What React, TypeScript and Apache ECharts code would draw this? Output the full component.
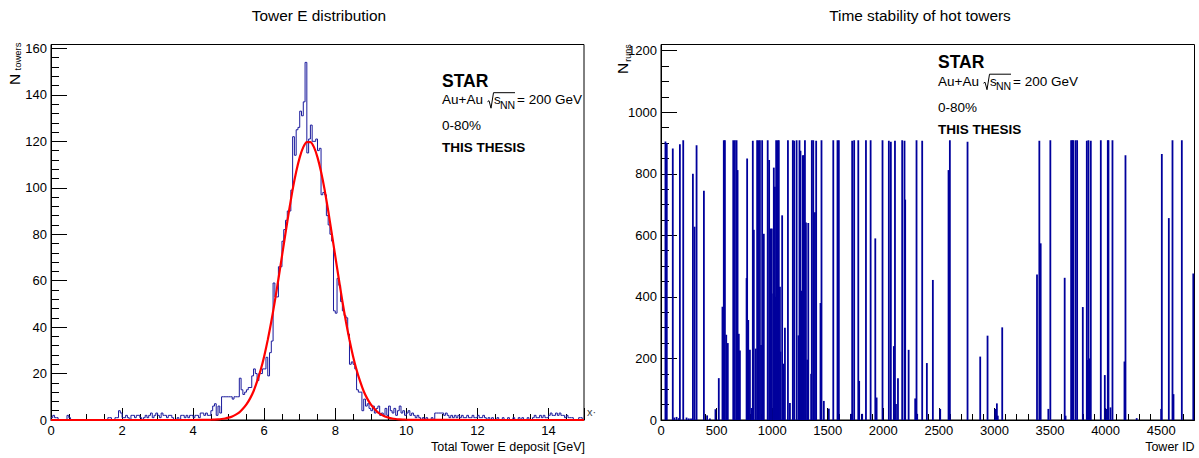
import React, { useEffect, useRef } from "react";
import * as echarts from "echarts";

// ---------- Left panel: tower energy histogram (bin width 0.05 GeV, 0–15 GeV) ----------
const energyBinWidth = 0.05;
const energyMax = 15;
const energyCounts = [
  // 0.00 - 0.95
  1, 2, 1, 1, 0, 0, 0, 0, 0, 2, 1, 0, 0, 0, 0, 0, 0, 0, 0, 0,
  // 1.00 - 1.95
  0, 0, 0, 0, 0, 0, 0, 0, 0, 0, 0, 0, 1, 1, 0, 0, 1, 1, 4, 3,
  // 2.00 - 2.95
  1, 1, 2, 1, 0, 2, 2, 1, 2, 2, 1, 0, 1, 2, 1, 2, 3, 1, 2, 3,
  // 3.00 - 3.95
  2, 1, 3, 2, 2, 1, 2, 2, 1, 0, 0, 1, 0, 2, 2, 1, 2, 1, 2, 2,
  // 4.00 - 4.95
  1, 2, 2, 1, 3, 3, 2, 3, 2, 2, 4, 6, 7, 2, 6, 3, 10, 10, 10, 10,
  // 5.00 - 5.95
  10, 10, 9, 10, 10, 10, 18, 13, 11, 12, 13, 14, 14, 19, 22, 20, 17, 20, 20, 22,
  // 6.00 - 6.95
  22, 27, 19, 29, 34, 59, 53, 53, 66, 66, 77, 82, 86, 90, 90, 99, 122, 114, 125, 126,
  // 7.00 - 7.95
  133, 131, 137, 154, 115, 121, 127, 120, 120, 121, 116, 117, 97, 98, 97, 88, 84, 80, 77, 47,
  // 8.00 - 8.95
  46, 61, 58, 51, 47, 45, 44, 37, 24, 25, 24, 22, 13, 12, 12, 4, 9, 6, 7, 5,
  // 9.00 - 9.95
  4, 6, 3, 5, 6, 2, 3, 2, 5, 2, 6, 4, 3, 5, 2, 4, 6, 3, 4, 2,
  // 10.00 - 10.95
  3, 4, 2, 3, 2, 1, 2, 1, 0, 1, 0, 1, 0, 0, 1, 0, 3, 3, 3, 3,
  // 11.00 - 11.95
  3, 2, 3, 2, 1, 2, 1, 2, 1, 2, 1, 2, 1, 1, 2, 1, 1, 2, 1, 1,
  // 12.00 - 12.95
  2, 1, 1, 2, 1, 0, 1, 0, 1, 0, 0, 1, 0, 0, 1, 0, 0, 1, 0, 0,
  // 13.00 - 13.95
  1, 0, 0, 1, 0, 1, 0, 0, 1, 0, 0, 1, 2, 1, 1, 2, 1, 2, 1, 1,
  // 14.00 - 14.95
  2, 3, 2, 2, 3, 2, 3, 2, 2, 1, 2, 1, 1, 1, 0, 0, 0, 1, 1, 0,
];

// Gaussian fit curve
const fitEnergy = [
  0, 2, 4, 4.4, 4.5, 4.6, 4.7, 4.8, 4.9, 5.0, 5.1, 5.2, 5.3, 5.4, 5.5, 5.6, 5.7, 5.8, 5.9,
  6.0, 6.1, 6.2, 6.3, 6.4, 6.5, 6.6, 6.7, 6.8, 6.9, 7.0, 7.1, 7.2, 7.3, 7.4, 7.5, 7.6, 7.7, 7.8, 7.9,
  8.0, 8.1, 8.2, 8.3, 8.4, 8.5, 8.6, 8.7, 8.8, 8.9, 9.0, 9.1, 9.2, 9.3, 9.4, 9.5, 9.6, 9.7, 9.8, 9.9,
  10.0, 10.1, 10.2, 12, 15,
];
const fitCounts = [
  0, 0, 0.01, 0.05, 0.1, 0.16, 0.26, 0.42, 0.66, 1.0, 1.53, 2.3, 3.3, 4.8, 6.7, 9.2, 12.4, 16.6, 21.5,
  27.5, 34.5, 42.4, 51.2, 60.7, 70.6, 80.5, 90.2, 99.2, 106.9, 113.1, 117.5, 119.7, 119.7, 117.5, 113.1, 106.9, 99.2, 90.2, 80.5,
  70.6, 60.7, 51.2, 42.4, 34.5, 27.5, 21.5, 16.6, 12.4, 9.2, 6.7, 4.8, 3.3, 2.3, 1.5, 1.0, 0.66, 0.42, 0.26, 0.16,
  0.1, 0.05, 0.03, 0, 0,
];

// ---------- Right panel: hot towers, number of runs flagged ----------
const towerIds = [
  40, 52, 106, 120, 140, 160, 170, 200, 230, 250, 270, 287, 302, 320, 386, 415, 440, 490, 520, 553,
  565, 575, 587, 601, 650, 665, 680, 689, 700, 710, 770, 775, 785, 800, 815, 826, 835, 853, 865, 878,
  890, 900, 910, 925, 960, 973, 985, 997, 1010, 1015, 1025, 1030, 1036, 1051, 1060, 1070, 1075, 1090, 1100, 1115,
  1142, 1160, 1186, 1198, 1220, 1237, 1246, 1255, 1265, 1276, 1285, 1295, 1304, 1316, 1325, 1351, 1357, 1370, 1385, 1396,
  1435, 1444, 1465, 1510, 1550, 1588, 1600, 1711, 1720, 1738, 1775, 1783, 1810, 1844, 1886, 1928, 1940, 1993, 2050, 2068,
  2095, 2105, 2114, 2132, 2170, 2191, 2197, 2228, 2287, 2299, 2305, 2350, 2392, 2446, 2512, 2587, 2599, 2758, 2872, 2938,
  3007, 3022, 3030, 3070, 3383, 3404, 3416, 3485, 3503, 3632, 3640, 3690, 3702, 3708, 3729, 3744, 3795, 3831, 3837, 3846,
  3855, 3867, 3957, 3993, 4011, 4020, 4026, 4044, 4062, 4170, 4179, 4280, 4500, 4506, 4569, 4602, 4611, 4686, 4789,
];
const runCounts = [
  905, 900, 882, 8, 10, 6, 896, 909, 8, 5, 5, 800, 628, 893, 745, 15, 5, 35, 136, 368,
  909, 909, 277, 250, 909, 909, 909, 812, 280, 226, 461, 850, 325, 228, 39, 907, 618, 232, 909, 909,
  909, 244, 909, 605, 909, 845, 622, 622, 411, 820, 758, 400, 909, 909, 909, 433, 222, 665, 183, 300,
  909, 55, 909, 907, 909, 275, 909, 875, 420, 860, 860, 909, 642, 196, 640, 150, 909, 909, 675, 907,
  380, 909, 62, 37, 909, 909, 909, 20, 907, 909, 909, 127, 20, 909, 909, 590, 73, 909, 907, 904,
  240, 907, 52, 136, 909, 907, 716, 228, 70, 909, 20, 907, 185, 455, 36, 812, 909, 904, 206, 274,
  36, 54, 14, 301, 473, 907, 574, 36, 909, 462, 14, 909, 909, 909, 909, 909, 367, 907, 195, 909,
  200, 907, 909, 146, 36, 909, 909, 41, 909, 190, 860, 6, 36, 864, 656, 909, 84, 909, 476,
];

const FONT = "'Liberation Sans', Arial, Helvetica, sans-serif";
const BLACK = "#000000";

function isMultiple(v: number, step: number) {
  return Math.abs(v / step - Math.round(v / step)) < 1e-6;
}

function majorX(gridIndex: number, min: number, max: number, interval: number) {
  return {
    gridIndex, type: "value", min, max, interval, position: "bottom",
    axisLine: { show: true, onZero: false, lineStyle: { color: BLACK, width: 1 } },
    axisTick: { show: true, inside: true, length: 12, lineStyle: { color: BLACK, width: 1 } },
    axisLabel: {
      show: true, margin: 4, fontSize: 13, color: BLACK, fontFamily: FONT,
      formatter: (v: number) => (isMultiple(v, interval) ? String(v) : ""),
    },
    splitLine: { show: false },
  };
}
function minorX(gridIndex: number, min: number, max: number, interval: number) {
  return {
    gridIndex, type: "value", min, max, interval, position: "bottom",
    axisLine: { show: false, onZero: false },
    axisTick: { show: true, inside: true, length: 6, lineStyle: { color: BLACK, width: 1 } },
    axisLabel: { show: false },
    splitLine: { show: false },
  };
}
function majorY(gridIndex: number, min: number, max: number, interval: number) {
  return {
    gridIndex, type: "value", min, max, interval, position: "left",
    axisLine: { show: true, onZero: false, lineStyle: { color: BLACK, width: 1 } },
    axisTick: { show: true, inside: true, length: 16, lineStyle: { color: BLACK, width: 1 } },
    axisLabel: {
      show: true, margin: 4, fontSize: 13, color: BLACK, fontFamily: FONT,
      formatter: (v: number) => (isMultiple(v, interval) ? String(v) : ""),
    },
    splitLine: { show: false },
  };
}
function minorY(gridIndex: number, min: number, max: number, interval: number) {
  return {
    gridIndex, type: "value", min, max, interval, position: "left",
    axisLine: { show: false, onZero: false },
    axisTick: { show: true, inside: true, length: 8, lineStyle: { color: BLACK, width: 1 } },
    axisLabel: { show: false },
    splitLine: { show: false },
  };
}

function txt(x: number, y: number, text: string, size: number, opts: any = {}) {
  return {
    type: "text", x, y, silent: true, rotation: opts.rotation || 0,
    style: {
      text, fontSize: size, fontFamily: FONT, fontWeight: opts.bold ? "bold" : "normal",
      fill: opts.color || BLACK, align: opts.align || "left", verticalAlign: "middle",
    },
  };
}

function starBlock(x0: number, yStar: number, yAu: number, y080: number, yThesis: number) {
  const r = x0 + 3;
  return [
    txt(x0, yStar, "STAR", 17.5, { bold: true }),
    txt(x0, yAu, "Au+Au", 13.5),
    {
      type: "polyline", silent: true,
      shape: { points: [[r + 42.5, yAu + 2], [r + 44, yAu + 1], [r + 46, yAu + 8.5], [r + 48.5, yAu - 7], [r + 70, yAu - 7]] },
      style: { stroke: BLACK, lineWidth: 1, fill: null },
    },
    txt(r + 49, yAu, "s", 13.5),
    txt(r + 55, yAu + 5, "NN", 10.5),
    txt(r + 72, yAu, "= 200 GeV", 13.5),
    txt(x0, y080, "0-80%", 13.5),
    txt(x0, yThesis, "THIS THESIS", 13.5, { bold: true }),
  ];
}

export default function App() {
  const ref = useRef<HTMLDivElement>(null);
  useEffect(() => {
    if (!ref.current) return;
    const chart = echarts.init(ref.current, null, { renderer: "svg" });

    const histData: number[][] = energyCounts.map((c, i) => [Number((i * energyBinWidth).toFixed(2)), c]);
    histData.push([energyMax, energyCounts[energyCounts.length - 1]]);
    const fitData = fitEnergy.map((e, i) => [e, fitCounts[i]]);
    const spikeData = towerIds.map((id, i) => [id, runCounts[i]]);

    const option: any = {
      animation: false,
      backgroundColor: "#ffffff",
      grid: [
        { left: 51, top: 44.5, width: 533, height: 375.5, show: true, borderColor: BLACK, borderWidth: 1, backgroundColor: "transparent" },
        { left: 661, top: 44.5, width: 533.5, height: 375.5, show: true, borderColor: BLACK, borderWidth: 1, backgroundColor: "transparent" },
      ],
      xAxis: [
        majorX(0, 0, 15, 2),
        minorX(0, 0, 15, 0.5),
        majorX(1, 0, 4800, 500),
        minorX(1, 0, 4800, 100),
      ],
      yAxis: [
        majorY(0, 0, 161.7, 20),
        minorY(0, 0, 161.7, 4),
        majorY(1, 0, 1220, 200),
        minorY(1, 0, 1220, 50),
      ],
      series: [
        {
          type: "line", xAxisIndex: 0, yAxisIndex: 0, data: histData, step: "end",
          symbol: "none", silent: true, z: 2,
          lineStyle: { color: "#1a1a9c", width: 1 },
        },
        {
          type: "line", xAxisIndex: 0, yAxisIndex: 0, data: fitData, smooth: 0.2,
          symbol: "none", silent: true, z: 3,
          lineStyle: { color: "#ff0000", width: 2.2 },
        },
        {
          type: "bar", xAxisIndex: 2, yAxisIndex: 2, data: spikeData, barWidth: 1.8,
          silent: true, itemStyle: { color: "#00009c" },
        },
      ],
      graphic: [
        txt(319, 15.5, "Tower E distribution", 15.4, { align: "center" }),
        txt(920, 15.5, "Time stability of hot towers", 15.4, { align: "center" }),
        txt(585, 447, "Total Tower E deposit [GeV]", 12.5, { align: "right" }),
        txt(1194.5, 447, "Tower ID", 12.5, { align: "right" }),
        txt(587, 412, "x·", 11, { color: "#444" }),
        // y-axis titles (rotated)
        txt(14.2, 85, "N", 15.5, { rotation: Math.PI / 2 }),
        txt(17.5, 70.5, "towers", 9.5, { rotation: Math.PI / 2 }),
        txt(622.5, 74, "N", 15.5, { rotation: Math.PI / 2 }),
        txt(628, 61.7, "runs", 9, { rotation: Math.PI / 2 }),
        ...starBlock(442, 80.7, 99.7, 125.8, 147.8),
        ...starBlock(938, 62.2, 81.2, 107.3, 129.3),
      ],
    };
    chart.setOption(option);
    return () => chart.dispose();
  }, []);
  return (
    <div
      ref={ref}
      style={{ position: "fixed", left: 0, top: 0, width: 1199, height: 458, background: "#ffffff" }}
    />
  );
}
